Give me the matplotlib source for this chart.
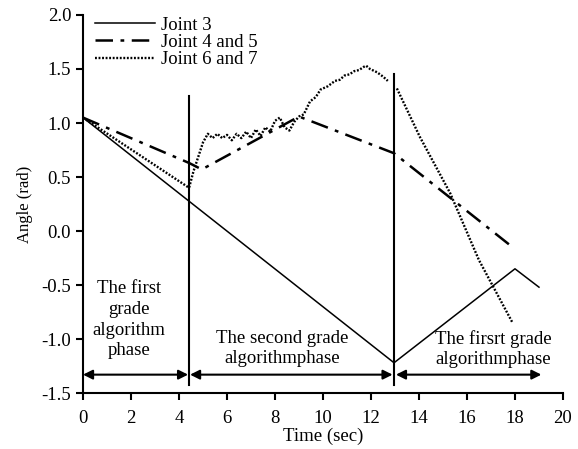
import numpy as np
import matplotlib.pyplot as plt

plt.rcParams['font.family'] = ['Liberation Serif', 'DejaVu Serif']
plt.rcParams['font.size'] = 13

# Joint 3
t3 = [0, 12.96, 18.0, 19.0]
q3 = [1.05, -1.22, -0.35, -0.52]

# Joint 4 and 5
t45 = [0, 4.42, 4.95, 9.0, 12.96, 17.9]
q45 = [1.05, 0.63, 0.57, 1.06, 0.72, -0.15]

# Joint 6 and 7 (nan = gap at the phase switch)
t67 = [0, 4.42, 4.6, 5.0, 5.2, 5.4, 5.6, 5.8, 6.0, 6.2, 6.4, 6.6, 6.8, 7.0,
       7.2, 7.4, 7.6, 7.8, 8.0, 8.2, 8.4, 8.6, 8.8, 9.0, 9.2, 9.46, 9.7,
       9.9, 10.2, 10.5, 10.7, 10.9, 11.1, 11.3, 11.5, 11.7, 11.8, 11.96,
       12.25, 12.5, 12.7, np.nan, 13.08, 14.04, 15.3, 16.5, 17.9]
q67 = [1.05, 0.40, 0.55, 0.82, 0.90, 0.86, 0.90, 0.86, 0.89, 0.84, 0.90,
       0.86, 0.92, 0.86, 0.94, 0.88, 0.96, 0.92, 1.02, 1.05, 0.96, 0.93,
       1.01, 1.06, 1.08, 1.20, 1.24, 1.31, 1.34, 1.39, 1.40, 1.44, 1.45,
       1.48, 1.49, 1.52, 1.53, 1.50, 1.47, 1.43, 1.39, np.nan, 1.32, 0.87,
       0.35, -0.27, -0.85]

# phase switch times and bar heights
t_switch = [4.42, 12.96]
bar_top = [1.25, 1.45]
bar_bottom = -1.43
arrow_y = -1.33

fig = plt.figure(figsize=(5.78, 4.49), dpi=100)
ax = fig.add_axes([0.1436, 0.1247, 0.8304, 0.8419])

ax.plot(t3, q3, color='black', lw=1.1, label='Joint 3')
ax.plot(t45, q45, color='black', lw=1.8, ls=(0, (7, 3, 1.5, 3)), label='Joint 4 and 5')
ax.plot(t67, q67, color='black', lw=1.7, ls=(0, (0.8, 0.7)), label='Joint 6 and 7')

for ts, top in zip(t_switch, bar_top):
    ax.plot([ts, ts], [bar_bottom, top], color='black', lw=1.5)

# phase arrows
spans = [(0, 4.38), (4.46, 12.9), (13.04, 19.1)]
for a, b in spans:
    ax.annotate('', xy=(b, arrow_y), xytext=(a, arrow_y),
                arrowprops=dict(arrowstyle='<|-|>', color='black', lw=1.5,
                                mutation_scale=14, shrinkA=0, shrinkB=0))

ax.text(1.9, -0.82, 'The first\ngrade\nalgorithm\nphase', ha='center', va='center',
        fontsize=13.5, linespacing=1.3)
ax.text(8.3, -1.09, 'The second grade\nalgorithmphase', ha='center', va='center',
        fontsize=13.5, linespacing=1.25)
ax.text(17.1, -1.09, 'The firsrt grade\nalgorithmphase', ha='center', va='center',
        fontsize=13.5, linespacing=1.25)

ax.set_xlim(0, 20)
ax.set_ylim(-1.5, 2.0)
ax.set_xticks(np.arange(0, 21, 2))
ax.set_yticks(np.arange(-1.5, 2.01, 0.5))
ax.set_yticklabels(['-1.5', '-1.0', '-0.5', '0.0', '0.5', '1.0', '1.5', '2.0'])
ax.spines['top'].set_visible(False)
ax.spines['right'].set_visible(False)
ax.spines['left'].set_linewidth(1.5)
ax.spines['bottom'].set_linewidth(1.5)
ax.tick_params(direction='out', length=5, width=1.5, labelsize=13.5)
ax.tick_params(axis='x', pad=7)
ax.set_xlabel('Time (sec)', fontsize=13.5, labelpad=1)
ax.set_ylabel('Angle (rad)', fontsize=12, labelpad=6)

ax.legend(loc='upper left', bbox_to_anchor=(-0.01, 1.04), frameon=False,
          handlelength=3.2, handletextpad=0.3, labelspacing=0.0, fontsize=13.5)

fig.savefig('out.png', dpi=100)
